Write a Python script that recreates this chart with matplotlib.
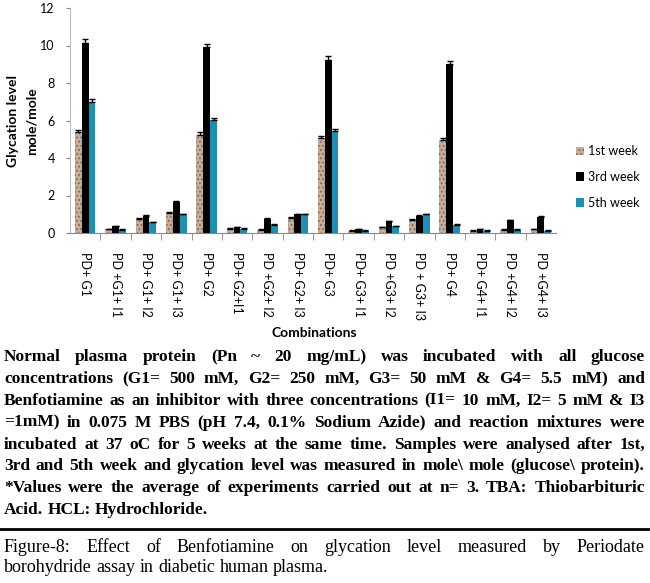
import numpy as np
import matplotlib.pyplot as plt
from matplotlib.patches import Patch

# datos (nivel de glicación, mol/mol)
combinaciones = ["PD+ G1", "PD +G1+ I1", "PD+ G1+ I2", "PD+ G1+ I3",
                 "PD+ G2", "PD+ G2+I1", "PD +G2+ I2", "PD+ G2+ I3",
                 "PD+ G3", "PD+ G3+ I1", "PD +G3+ I2", "PD + G3+ I3",
                 "PD+ G4", "PD+ G4+ I1", "PD +G4+ I2", "PD +G4+ I3"]
semana1 = [5.4, 0.2, 0.75, 1.05, 5.25, 0.22, 0.18, 0.8,
           5.07, 0.12, 0.3, 0.7, 4.97, 0.12, 0.17, 0.2]
semana3 = [10.15, 0.35, 0.93, 1.65, 9.9, 0.3, 0.75, 1.0,
           9.22, 0.21, 0.62, 0.93, 9.04, 0.2, 0.68, 0.86]
semana5 = [7.0, 0.18, 0.57, 1.0, 6.05, 0.22, 0.43, 1.0,
           5.45, 0.12, 0.35, 1.0, 0.43, 0.12, 0.17, 0.12]
err1 = [0.12, 0.03, 0.03, 0.05, 0.12, 0.04, 0.03, 0.05,
        0.12, 0.03, 0.03, 0.04, 0.12, 0.03, 0.03, 0.03]
err3 = [0.2, 0.03, 0.03, 0.04, 0.2, 0.03, 0.03, 0.04,
        0.2, 0.03, 0.03, 0.04, 0.15, 0.03, 0.03, 0.03]
err5 = [0.15, 0.03, 0.03, 0.04, 0.1, 0.03, 0.03, 0.04,
        0.1, 0.03, 0.03, 0.04, 0.05, 0.03, 0.03, 0.03]
series = ["1st week", "3rd week", "5th week"]

texto = [
    "Normal plasma protein (Pn ~ 20 mg/mL) was incubated with all glucose",
    "concentrations (G1= 500 mM, G2= 250 mM, G3= 50 mM & G4= 5.5 mM) and",
    "Benfotiamine as an inhibitor with three concentrations (I1= 10 mM, I2= 5 mM & I3",
    "=1mM) in 0.075 M PBS (pH 7.4, 0.1% Sodium Azide) and reaction mixtures were",
    "incubated at 37 oC for 5 weeks at the same time. Samples were analysed after 1st,",
    "3rd and 5th week and glycation level was measured in mole\\ mole (glucose\\ protein).",
    "*Values were the average of experiments carried out at n= 3. TBA: Thiobarbituric",
    "Acid. HCL: Hydrochloride.",
]
pie = [
    "Figure-8: Effect of Benfotiamine on glycation level measured by Periodate",
    "borohydride assay in diabetic human plasma.",
]

W, H = 650, 583
fig = plt.figure(figsize=(W / 100, H / 100), dpi=100)
ax = fig.add_axes([70 / W, 1 - 233 / H, 486 / W, 225 / H])

x = np.arange(len(combinaciones))
bw = 0.225
c1, c3, c5 = "#c4ae9a", "#000000", "#1c8fb3"
ekw = dict(ecolor="black", elinewidth=1.0, capsize=2.5, capthick=1.0)
z = np.zeros(len(x))

plt.rcParams["hatch.color"] = "#8a6656"
plt.rcParams["hatch.linewidth"] = 0.8
ax.bar(x - bw, semana1, bw, color=c1, hatch="....", linewidth=0,
       yerr=[z, err1], error_kw=ekw)
ax.bar(x, semana3, bw, color=c3, linewidth=0, yerr=[z, err3], error_kw=ekw)
ax.bar(x + bw, semana5, bw, color=c5, linewidth=0, yerr=[z, err5], error_kw=ekw)

ax.set_xlim(-0.5, len(x) - 0.5)
ax.set_ylim(0, 12)
ax.set_yticks(np.arange(0, 13, 2))
ax.tick_params(axis="y", labelsize=9, length=3, color="#888888", pad=8)
ax.set_xticks(x)
ax.set_xticklabels(combinaciones, rotation=270, fontsize=9, va="top", ha="center",
                   family="Lato")
for t in ax.get_yticklabels():
    t.set_family("Lato")
ax.tick_params(axis="x", length=0, pad=14)
ax.set_xticks(np.arange(0.5, len(x) - 0.5, 1), minor=True)
ax.tick_params(axis="x", which="minor", length=5, color="#888888")
for s in ["top", "right"]:
    ax.spines[s].set_visible(False)
ax.spines["left"].set_color("#bbbbbb")
ax.spines["bottom"].set_color("#888888")

fig.text(13 / W, 1 - 121 / H, "Glycation level", rotation=90, ha="center",
         va="center", fontsize=10, fontweight="bold", family="Lato")
fig.text(32 / W, 1 - 121 / H, "mole/mole", rotation=90, ha="center",
         va="center", fontsize=10, fontweight="bold", family="Lato")
fig.text(314 / W, 1 - 333 / H, "Combinations", ha="center", va="center",
         fontsize=10, fontweight="bold", family="Lato")

handles = [Patch(facecolor=c1, hatch="....", linewidth=0),
           Patch(facecolor=c3), Patch(facecolor=c5)]
fig.legend(handles, series, loc="center left", bbox_to_anchor=(576 / W, 1 - 177 / H),
           frameon=False, prop=dict(family="Lato", size=9), handlelength=0.65,
           handleheight=0.65, handletextpad=0.35, labelspacing=1.1, borderpad=0,
           borderaxespad=0)

renderer = fig.canvas.get_renderer()


def ancho(s, **kw):
    t = fig.text(0, 0, s, **kw)
    a = t.get_window_extent(renderer).width
    t.remove()
    return a


def justificar(linea, y, x0, x1, estirar=True, **kw):
    # coloca palabra a palabra para repartir el espacio como en el original
    palabras = linea.split(" ")
    objs = [fig.text(0, y, p, va="center", ha="left", **kw) for p in palabras]
    anchos = [o.get_window_extent(renderer).width for o in objs]
    if estirar and len(palabras) > 1:
        hueco = (x1 - x0 - sum(anchos)) / (len(palabras) - 1)
    else:
        hueco = ancho("a b", **kw) - ancho("ab", **kw)
    pos = x0
    for o, a in zip(objs, anchos):
        o.set_x(pos / W)
        pos += a + hueco


# tamaño de letra para que la línea más larga quepa casi sin estirar
kw_bold = dict(family="Liberation Serif", fontweight="bold")
mayor = max(ancho(l, fontsize=10, **kw_bold) for l in texto)
tam = min(12.5, 10 * 632 / mayor)

for i, linea in enumerate(texto):
    justificar(linea, 1 - (357 + 21.9 * i) / H, 4, 645,
               estirar=(i < len(texto) - 1), fontsize=tam, **kw_bold)

fig.add_artist(plt.Line2D([0, 648 / W], [1 - 529 / H] * 2, color="black", linewidth=2))

justificar(pie[0], 1 - 547 / H, 4, 645, family="Liberation Serif", fontsize=13)
justificar(pie[1], 1 - 567 / H, 4, 645, estirar=False,
           family="Liberation Serif", fontsize=13)

fig.savefig("out.png", dpi=100)
